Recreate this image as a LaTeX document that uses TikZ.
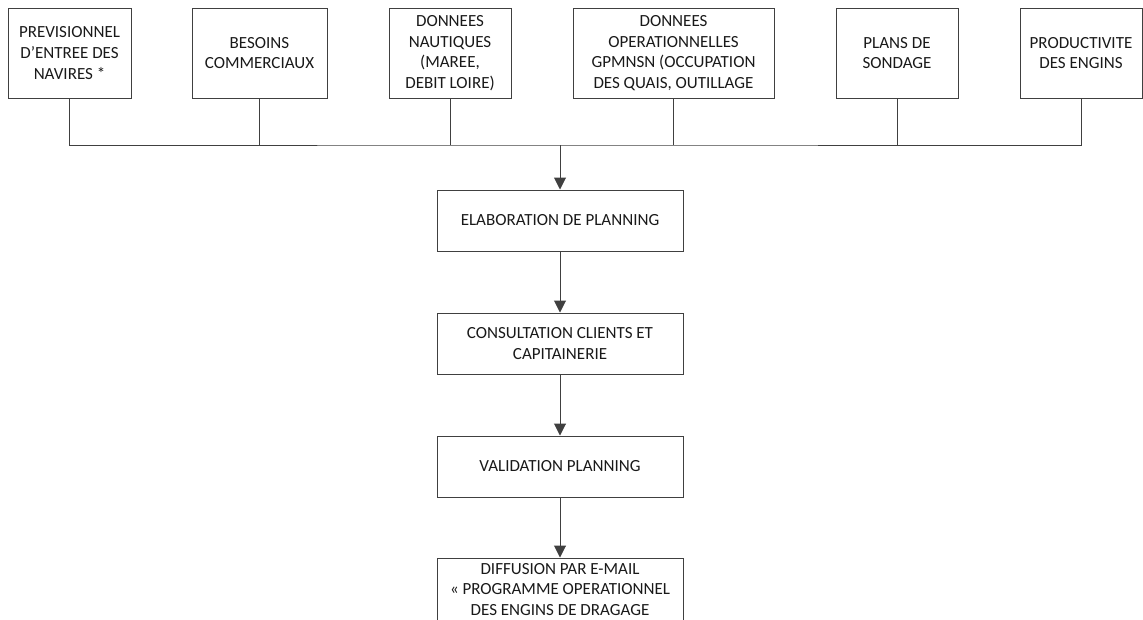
\documentclass[tikz,border=0pt]{standalone}
\usepackage{fontspec}
\setmainfont{Carlito}
\usetikzlibrary{arrows.meta}
\begin{document}
\begin{tikzpicture}[x=0.75pt,y=-0.75pt,
box/.style={draw=black!75,line width=0.75pt,align=center,inner sep=2pt,text=black!90,font=\fontsize{12.75}{15.5}\selectfont},
src/.style={box,minimum height=67.5pt},
stage/.style={box,minimum width=184.5pt,minimum height=45.75pt},
link/.style={draw=black!75,line width=0.75pt},
flow/.style={link,-{Triangle[width=9pt,length=9pt]}}
]
\useasboundingbox (0,0) rectangle (1143,619);
\clip (0,0) rectangle (1143,619);
% sources
\node[src,minimum width=92.25pt] (t1) at (69.5,53) {PREVISIONNEL\\D’ENTREE DES\\NAVIRES *};
\node[src,minimum width=101.25pt] (t2) at (259.5,53) {BESOINS\\COMMERCIAUX};
\node[src,minimum width=91.5pt] (t3) at (450,53) {DONNEES\\NAUTIQUES\\(MAREE,\\DEBIT LOIRE)};
\node[src,minimum width=150.75pt] (t4) at (673.5,53) {DONNEES\\OPERATIONNELLES\\GPMNSN (OCCUPATION\\DES QUAIS, OUTILLAGE};
\node[src,minimum width=91.5pt] (t5) at (897,53) {PLANS DE\\SONDAGE};
\node[src,minimum width=91.5pt] (t6) at (1081,53) {PRODUCTIVITE\\DES ENGINS};
\coordinate (bus) at (560,145);
% process
\node[stage] (elab) at (560,220.5) {ELABORATION DE PLANNING};
\node[stage] (consult) at (560,343.5) {CONSULTATION CLIENTS ET\\CAPITAINERIE};
\node[stage] (valid) at (560,466.5) {VALIDATION PLANNING};
\node[stage,minimum height=47.25pt] (diff) at (560,589.5) {DIFFUSION PAR E-MAIL\\« PROGRAMME OPERATIONNEL\\DES ENGINS DE DRAGAGE};
% connectors
\draw[link] (t1.south) |- (bus) -| (t6.south);
\draw[link] (t2.south) -- (t2.south |- bus);
\draw[link] (t3.south) -- (t3.south |- bus);
\draw[link] (t4.south) -- (t4.south |- bus);
\draw[link] (t5.south) -- (t5.south |- bus);
\draw[flow] (bus) -- (elab.north);
\draw[flow] (elab) -- (consult);
\draw[flow] (consult) -- (valid);
\draw[flow] (valid) -- (diff);
\end{tikzpicture}
\end{document}
